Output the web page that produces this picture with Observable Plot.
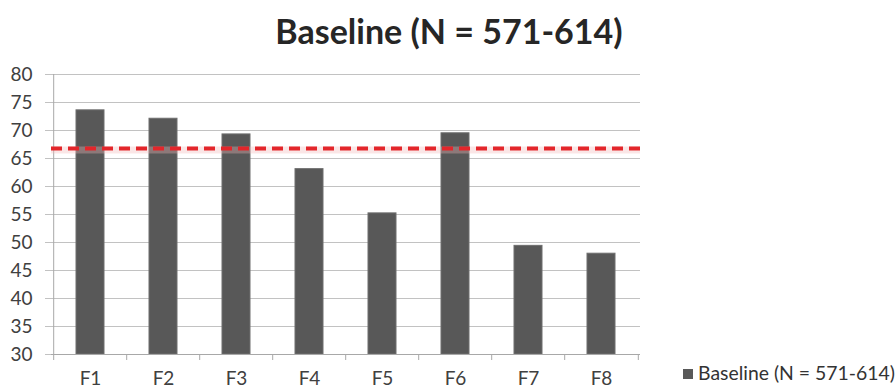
<!DOCTYPE html>
<html>
<head>
<meta charset="utf-8">
<script src="https://cdn.jsdelivr.net/npm/d3@7"></script>
<script src="https://cdn.jsdelivr.net/npm/@observablehq/plot@0.6"></script>
<style>
  html, body { margin: 0; padding: 0; background: #fff; }
  #wrap { position: relative; width: 895px; height: 387px; overflow: hidden; font-family: Lato, "Open Sans", sans-serif; }
  #title { position: absolute; left: 0; top: 10px; width: 898px; text-align: center; font-weight: bold; font-size: 34px; color: #262626; line-height: 42px; }
  #chart { position: absolute; left: 0; top: 55px; }
  #legend { position: absolute; left: 683px; top: 360px; font-size: 19.4px; color: #333; display: flex; align-items: center; white-space: nowrap; line-height: 26px; }
  #legend .sw { width: 10px; height: 10px; background: #595959; margin-right: 5px; margin-top: 2px; }
</style>
</head>
<body>
<div id="wrap">
  <div id="title"></div>
  <div id="chart"></div>
  <div id="legend"><span class="sw"></span><span id="legend-label"></span></div>
</div>
<script>
// Series
const seriesName = "Baseline (N = 571-614)";
const categories = ["F1", "F2", "F3", "F4", "F5", "F6", "F7", "F8"];
const values = [73.6, 72.1, 69.3, 63.1, 55.2, 69.5, 49.4, 48.0];
// Reference level drawn as the dashed red line
const benchmark = 66.8;
// Y axis ticks
const yTicks = [30, 35, 40, 45, 50, 55, 60, 65, 70, 75, 80];

document.getElementById("title").textContent = seriesName;
document.getElementById("legend-label").textContent = seriesName;

const data = categories.map((c, i) => ({category: c, value: values[i]}));

const width = 660, height = 332;
const marginLeft = 51, marginRight = 20, marginTop = 19, marginBottom = 33;
const step = (width - marginLeft - marginRight) / categories.length;

const gridColor = "#c2c2c2";
const axisColor = "#a8a8a8";

const chart = Plot.plot({
  width, height, marginLeft, marginRight, marginTop, marginBottom,
  style: {fontFamily: "Lato, 'Open Sans', sans-serif", fontSize: "19px", color: "#404040", background: "transparent", overflow: "visible"},
  x: {domain: categories, paddingInner: 0.62, paddingOuter: 0.31, label: null},
  y: {domain: [30, 80], label: null},
  marks: [
    Plot.gridY(yTicks, {stroke: gridColor, strokeOpacity: 1}),
    Plot.axisY(yTicks, {tickSize: 6, tickPadding: 13, stroke: gridColor, strokeOpacity: 1, fill: "#404040", label: null}),
    Plot.axisX({tickSize: 0, tickPadding: 17, fill: "#404040", label: null}),
    // vertical axis line with its tick below the baseline
    Plot.ruleX(categories.slice(0, 1), {x: d => d, y1: 80, y2: 30, insetBottom: -6, dx: -step / 2, stroke: axisColor}),
    // category boundary ticks
    Plot.ruleX(categories.slice(1), {x: d => d, y1: 30, y2: 30, insetBottom: -6, dx: -step / 2, stroke: axisColor}),
    Plot.ruleX(categories.slice(-1), {x: d => d, y1: 30, y2: 30, insetBottom: -6, dx: step / 2, stroke: axisColor}),
    Plot.barY(data, {x: "category", y1: 30, y2: "value", fill: "#585858", stroke: "#6e6e6e", strokeWidth: 1}),
    Plot.ruleY([30], {stroke: axisColor}),
    // soft glow under the dashed benchmark
    Plot.ruleY([benchmark], {stroke: "#f2b8b8", strokeWidth: 7, strokeOpacity: 0.35, dy: 1.5}),
    Plot.ruleY([benchmark], {stroke: "#e3262b", strokeWidth: 4, strokeDasharray: "11,6"})
  ]
});
document.getElementById("chart").appendChild(chart);
</script>
</body>
</html>
